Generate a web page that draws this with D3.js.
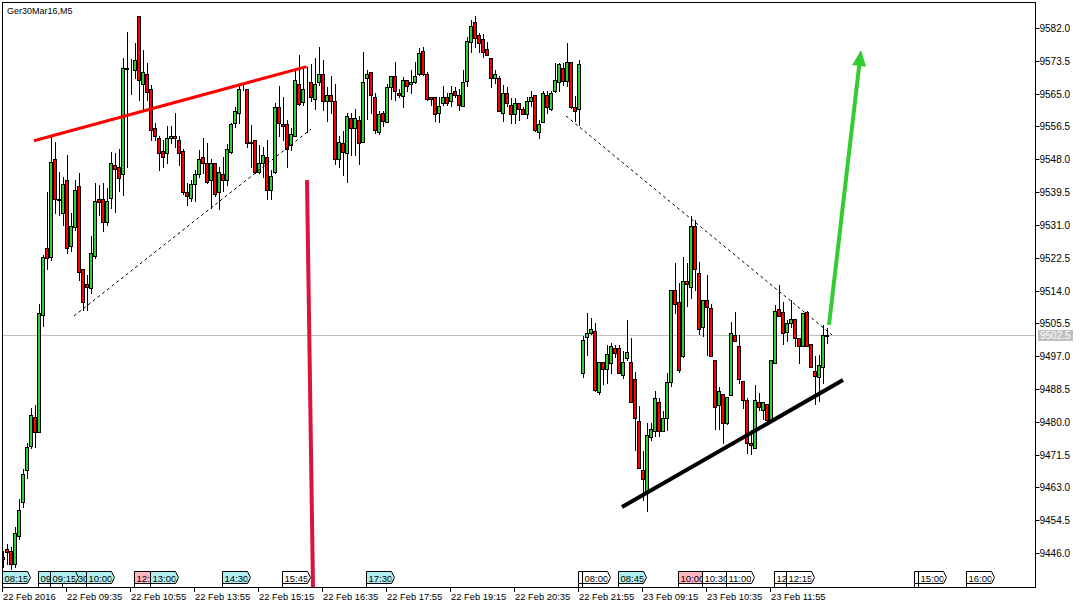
<!DOCTYPE html>
<html><head><meta charset="utf-8">
<script src="https://cdn.jsdelivr.net/npm/d3@7/dist/d3.min.js"></script>
<style>html,body{margin:0;padding:0;background:#fff;}svg{display:block;font-family:"Liberation Sans",Arial,sans-serif;}</style>
</head><body>
<script>
// ---- data (M5 candles, index 0..206) ----
const opens = [9445.0,9447.0,9446.5,9443.1,9450.5,9459.3,9467.6,9473.6,9481.3,9477.4,9507.6,9525.0,9522.6,9548.0,9537.5,9534.0,9542.6,9525.4,9530.5,9541.1,
9519.5,9515.7,9514.6,9523.0,9537.6,9537.8,9531.8,9537.9,9546.5,9545.9,9544.2,9571.4,9571.3,9571.0,9585.1,9567.4,9570.1,9566.2,9556.0,9553.5,
9550.2,9549.6,9553.5,9554.1,9553.0,9550.2,9539.5,9537.9,9541.6,9544.2,9548.6,9547.1,9542.5,9547.1,9539.5,9544.2,9542.5,9550.0,9557.5,9559.9,
9566.6,9566.2,9552.3,9553.0,9544.7,9547.0,9548.6,9540.0,9544.7,9561.5,9557.1,9557.1,9551.7,9553.9,9567.5,9562.9,9566.9,9568.0,9563.6,9568.0,
9570.1,9563.0,9564.7,9563.1,9548.0,9552.2,9549.6,9558.7,9556.1,9558.2,9552.4,9569.0,9570.6,9564.1,9555.0,9559.9,9557.6,9566.7,9569.6,9565.1,
9564.5,9568.6,9567.4,9568.0,9570.0,9576.1,9570.0,9564.1,9564.1,9559.9,9562.5,9564.1,9563.0,9565.7,9564.7,9561.9,9568.4,9578.5,9583.5,9580.2,
9579.1,9576.6,9574.2,9569.0,9569.0,9559.9,9565.1,9562.1,9559.8,9562.5,9561.0,9559.8,9563.1,9564.7,9555.0,9557.6,9564.7,9561.0,9565.6,9568.0,
9571.6,9568.4,9573.2,9561.5,9561.0,9492.6,9501.9,9502.9,9503.5,9487.8,9495.4,9493.6,9495.3,9499.2,9499.2,9492.0,9496.5,9495.4,9491.0,9480.3,
9467.6,9461.7,9476.0,9477.7,9485.1,9477.7,9481.0,9490.4,9514.2,9511.0,9497.1,9516.5,9515.0,9530.7,9518.5,9504.5,9511.5,9509.4,9496.0,9484.4,
9487.2,9479.6,9486.9,9502.5,9499.5,9490.6,9485.6,9474.6,9473.3,9485.2,9483.1,9484.6,9480.5,9495.3,9509.1,9508.5,9503.3,9505.5,9506.5,9501.6,
9499.5,9508.5,9500.1,9493.2,9491.5,9494.1,9502.3];
const highs = [9446.5,9448.4,9447.6,9452.8,9460.0,9467.8,9474.5,9483.6,9484.4,9510.5,9523.2,9539.6,9553.8,9552.5,9544.8,9543.5,9549.1,9534.0,9542.6,9544.4,
9519.5,9518.0,9528.1,9541.9,9541.3,9541.8,9540.5,9550.0,9549.6,9550.6,9574.1,9581.0,9574.0,9578.0,9585.1,9576.3,9573.0,9567.2,9557.3,9553.9,
9553.0,9556.5,9556.7,9559.9,9553.9,9550.6,9541.8,9542.7,9545.3,9550.4,9553.5,9552.2,9548.1,9547.1,9546.1,9548.7,9551.9,9557.5,9561.5,9567.3,
9567.3,9566.2,9556.9,9553.0,9551.7,9551.1,9553.0,9545.3,9562.7,9567.0,9564.1,9558.2,9556.0,9571.0,9575.0,9572.0,9572.0,9572.7,9574.2,9577.0,
9573.8,9566.7,9569.6,9567.5,9553.9,9555.2,9559.9,9559.9,9561.0,9559.1,9575.7,9571.2,9570.6,9565.1,9560.6,9560.6,9567.5,9569.6,9573.3,9566.2,
9569.4,9568.6,9571.2,9573.3,9576.8,9577.2,9570.7,9564.1,9564.1,9564.1,9566.9,9565.1,9566.9,9566.7,9566.2,9571.0,9579.6,9584.1,9585.1,9580.7,
9580.5,9578.5,9574.2,9571.2,9569.6,9567.3,9566.7,9563.8,9563.8,9562.5,9561.5,9564.1,9565.8,9564.7,9558.2,9565.8,9565.6,9565.6,9572.9,9572.9,
9572.9,9578.1,9573.2,9564.4,9573.8,9502.1,9508.1,9506.8,9505.5,9495.6,9495.6,9499.9,9500.3,9499.9,9499.9,9498.2,9506.4,9501.7,9493.0,9484.2,
9472.3,9479.7,9479.7,9488.0,9486.1,9482.7,9492.6,9514.2,9521.2,9515.9,9522.6,9521.1,9533.3,9532.3,9521.5,9511.6,9518.0,9510.5,9496.0,9489.1,
9487.2,9486.3,9505.9,9508.5,9502.5,9490.6,9486.1,9477.9,9489.5,9487.4,9485.2,9484.6,9496.0,9510.3,9515.4,9511.1,9506.4,9511.5,9506.5,9501.6,
9508.3,9508.8,9500.1,9497.0,9497.3,9505.1,9504.2];
const lows = [9442.5,9443.2,9441.8,9442.5,9449.5,9458.0,9465.5,9473.2,9473.5,9477.4,9504.8,9519.5,9522.0,9534.0,9533.6,9531.0,9523.6,9524.3,9529.7,9516.7,
9509.0,9509.0,9513.4,9522.4,9533.6,9529.5,9531.0,9535.3,9534.4,9539.9,9538.8,9546.1,9565.0,9569.0,9563.4,9560.8,9563.4,9553.0,9553.0,9545.3,
9546.1,9547.0,9552.2,9551.3,9546.6,9539.0,9536.2,9537.1,9537.1,9543.5,9544.4,9541.8,9535.3,9538.4,9535.1,9539.7,9541.4,9549.6,9556.3,9557.4,
9566.0,9551.3,9546.1,9544.4,9544.4,9543.5,9537.7,9537.7,9544.4,9553.9,9553.0,9546.1,9550.4,9553.9,9562.1,9562.1,9555.0,9563.0,9561.0,9567.3,
9560.8,9558.0,9559.9,9546.8,9546.0,9544.0,9542.0,9549.0,9549.0,9546.8,9552.4,9558.4,9559.9,9554.9,9554.6,9556.5,9557.6,9563.6,9563.4,9564.1,
9561.5,9565.7,9565.1,9567.7,9569.9,9569.9,9563.4,9562.1,9558.0,9557.6,9562.1,9562.1,9561.9,9564.1,9560.8,9561.9,9566.9,9575.9,9577.2,9575.9,
9574.6,9574.9,9566.6,9567.7,9560.4,9557.8,9561.7,9557.4,9557.4,9558.2,9559.8,9558.7,9561.7,9555.2,9553.5,9557.6,9559.9,9560.8,9565.3,9565.6,
9567.3,9567.0,9561.2,9557.8,9556.9,9491.5,9497.3,9502.8,9488.0,9487.2,9489.8,9490.0,9492.6,9496.9,9492.6,9491.4,9496.0,9485.1,9472.8,9468.0,
9459.8,9456.8,9475.4,9476.2,9476.2,9477.5,9477.9,9489.3,9508.1,9493.0,9496.9,9509.9,9512.0,9514.2,9502.8,9502.1,9497.3,9497.0,9478.1,9478.1,
9474.4,9479.4,9486.9,9500.8,9490.0,9483.5,9472.0,9471.6,9473.1,9483.1,9480.6,9480.5,9480.5,9495.3,9507.5,9500.1,9500.8,9504.5,9499.5,9495.3,
9499.5,9499.5,9494.1,9484.6,9485.5,9490.0,9500.5];
const closes = [9444.5,9446.3,9443.1,9451.1,9457.2,9466.5,9473.4,9481.8,9477.4,9508.1,9522.6,9522.5,9547.4,9537.6,9537.8,9541.6,9525.0,9530.7,9540.0,9518.9,
9511.1,9515.0,9523.8,9537.2,9537.0,9531.8,9537.2,9547.1,9545.4,9543.1,9571.6,9571.6,9571.5,9573.7,9568.5,9570.7,9565.5,9555.6,9553.9,9549.6,
9548.5,9553.6,9554.1,9553.5,9549.6,9539.4,9538.4,9541.6,9544.2,9548.1,9547.0,9542.0,9547.0,9539.0,9544.7,9542.5,9550.6,9557.1,9560.5,9566.2,
9566.8,9552.2,9552.5,9544.7,9547.0,9549.1,9540.0,9543.7,9561.5,9557.5,9556.5,9550.6,9554.6,9568.6,9562.4,9566.2,9567.0,9564.1,9567.5,9570.1,
9563.0,9564.7,9563.0,9548.0,9552.4,9550.0,9559.3,9556.1,9558.7,9552.2,9568.1,9570.1,9564.7,9555.5,9559.8,9558.0,9566.7,9569.6,9565.6,9564.6,
9568.6,9566.9,9568.0,9569.6,9575.5,9570.0,9563.6,9563.6,9559.7,9561.9,9564.1,9562.5,9565.1,9564.7,9562.1,9568.1,9578.7,9582.6,9579.5,9578.1,
9575.9,9575.0,9569.0,9570.0,9560.4,9565.1,9562.5,9559.8,9562.5,9561.0,9559.8,9563.1,9564.1,9555.5,9557.2,9565.1,9561.5,9565.1,9568.6,9572.7,
9568.4,9573.2,9561.5,9560.4,9572.7,9501.2,9502.9,9504.1,9488.3,9495.4,9493.6,9497.5,9499.6,9497.9,9492.6,9495.4,9498.0,9485.1,9481.0,9468.0,
9465.2,9476.6,9478.2,9486.1,9477.7,9481.0,9490.2,9514.2,9510.5,9493.4,9516.5,9515.6,9530.7,9519.5,9504.1,9511.6,9509.8,9497.0,9483.9,9488.0,
9479.6,9486.3,9502.9,9500.8,9491.0,9485.6,9474.4,9474.0,9485.6,9483.9,9485.0,9480.5,9496.0,9508.7,9507.5,9502.9,9505.7,9506.5,9501.6,9499.5,
9508.1,9499.5,9494.1,9491.9,9494.7,9502.5,9502.5];

const priceTicks = [9446.0,9454.5,9463.0,9471.5,9480.0,9488.5,9497.0,9505.5,9514.0,9522.5,9531.0,9539.5,9548.0,9556.5,9565.0,9573.5,9582.0];
const dateTickIdx = [0,16,32,48,64,80,96,112,128,144,160,176,192];
const dateTickLabels = ["22 Feb 2016","22 Feb 09:35","22 Feb 10:55","22 Feb 13:55","22 Feb 15:15","22 Feb 16:35","22 Feb 17:55","22 Feb 19:15","22 Feb 20:35","22 Feb 21:55","23 Feb 09:15","23 Feb 10:35","23 Feb 11:55"];
// time badges (drawn in this order, later ones cover earlier ones)
const badgeIdx    = [0,9,15,12,21,33,37,55,70,91,144,145,154,169,175,181,193,196,228,229,241];
const badgeLabels = ["08:15","09:00","09:30","09:15","10:00","12:45","13:00","14:30","15:45","17:30","21:55","08:00","08:45","10:00","10:30","11:00","12:00","12:15","14:55","15:00","16:00"];
const badgeKinds  = ["c","c","c","c","c","p","c","c","w","c","w","w","c","p","w","w","w","w","w","w","w"];
const currentPrice = 9502.5;
const symbolTitle = "Ger30Mar16,M5";
// drawn objects, in [candle index, price]
const redTrend    = [[7.75,9552.8],[75.9,9572.0]];
const dashUpper   = [[17.75,9507.4],[77,9555.8]];
const dashLower   = [[140.75,9559.2],[207.25,9502.5]];
const crimsonLine = [[76,9542.6],[77.5,9437.2]];
const blackTrend  = [[154.75,9457.9],[210,9490.8]];
const greenArrow  = [[206.5,9505.1],[214.5,9576.3]];

// ---- drawing ----
const W=1084,H=608;
const L=2.5,T=2.5,R=1035.5,B=587.5;
const x = d3.scaleLinear().domain([0,258]).range([3,1035]);
const y = d3.scaleLinear().domain([9446,9582]).range([553,28]);

const svg = d3.select("body").append("svg").attr("width",W).attr("height",H);
svg.append("rect").attr("width",W).attr("height",H).attr("fill","#fff");
const defs = svg.append("defs");
defs.append("clipPath").attr("id","plot").append("rect").attr("x",L).attr("y",T).attr("width",R-L).attr("height",B-T);
const g = svg.append("g").attr("clip-path","url(#plot)");

// current price line
const py = Math.round(y(currentPrice))+0.5;
g.append("line").attr("x1",L).attr("x2",R).attr("y1",py).attr("y2",py).attr("stroke","#c0c0c0");

// candles
const idx = d3.range(opens.length);
const cg = g.append("g");
cg.selectAll("line.w").data(idx).join("line")
  .attr("x1",i=>x(i)+0.5).attr("x2",i=>x(i)+0.5)
  .attr("y1",i=>Math.round(y(highs[i]))).attr("y2",i=>Math.round(y(lows[i]))+1)
  .attr("stroke","#000").attr("stroke-width",1);
cg.selectAll("rect.b").data(idx).join("rect")
  .attr("x",i=>x(i)-1.5)
  .attr("y",i=>Math.round(y(Math.max(opens[i],closes[i])))+0.5)
  .attr("width",3)
  .attr("height",i=>Math.max(0,Math.round(y(Math.min(opens[i],closes[i])))-Math.round(y(Math.max(opens[i],closes[i])))))
  .attr("fill",i=>closes[i]>=opens[i]?"#32cd32":"#ff0000")
  .attr("stroke","#000").attr("stroke-width",1);

const pt = p=>[x(p[0]),y(p[1])];
function seg(p,opts){
  const a=pt(p[0]),b=pt(p[1]);
  const l=g.append("line").attr("x1",a[0]).attr("y1",a[1]).attr("x2",b[0]).attr("y2",b[1]);
  for(const k in opts) l.attr(k,opts[k]);
  return l;
}
seg(dashUpper,{stroke:"#000","stroke-width":1,"stroke-dasharray":"3,3"});
seg(dashLower,{stroke:"#000","stroke-width":1,"stroke-dasharray":"3,3"});
seg(redTrend,{stroke:"#ff0000","stroke-width":3});
seg(crimsonLine,{stroke:"#dc143c","stroke-width":4});
seg(blackTrend,{stroke:"#000","stroke-width":4});
// green arrow
{
  const a=pt(greenArrow[0]),b=pt(greenArrow[1]);
  const dx=b[0]-a[0],dy=b[1]-a[1],len=Math.hypot(dx,dy),ux=dx/len,uy=dy/len;
  const hl=16,hw=7;
  const bx=b[0]-ux*hl,by=b[1]-uy*hl;
  g.append("line").attr("x1",a[0]).attr("y1",a[1]).attr("x2",bx+ux*2).attr("y2",by+uy*2)
    .attr("stroke","#33cc33").attr("stroke-width",4);
  g.append("path").attr("d",`M${b[0]},${b[1]}L${bx-uy*hw},${by+ux*hw}L${bx+uy*hw},${by-ux*hw}Z`).attr("fill","#33cc33");
}

// time badges
const badgeFill={c:"#afeeee",p:"#ffb6c1",w:"#ffffff"};
const bg = svg.append("g");
const bx0 = badgeIdx.map(bi=>Math.round(x(bi))-0.5);
badgeIdx.forEach((bi,k)=>{
  const x0=bx0[k];
  if(x0>R) return;
  // visible horizontal span of this badge (later badges are drawn over it)
  let vl=x0, vr=x0+25;
  for(let j=k+1;j<bx0.length;j++){
    const xj=bx0[j];
    if(xj>x0 && xj<vr) vr=xj;
    if(xj<=vl && xj+27>vl) vl=xj+27;
  }
  bg.append("line").attr("x1",x0).attr("x2",x0).attr("y1",583.5).attr("y2",587).attr("stroke","#000");
  bg.append("path").attr("d",`M${x0},571.5H${x0+25}L${x0+28},577.5L${x0+25},583.5H${x0}Z`)
    .attr("fill",badgeFill[badgeKinds[k]]).attr("stroke","#000").attr("stroke-width",1);
  const cid="bc"+k;
  defs.append("clipPath").attr("id",cid).append("rect").attr("x",vl).attr("y",571).attr("width",Math.max(0,vr-vl)).attr("height",13);
  const t=bg.append("text").attr("x",x0+2).attr("y",581.5).attr("font-size","9.5px").attr("fill","#000")
    .attr("clip-path",`url(#${cid})`).text(badgeLabels[k]);
  // keep only the characters that remain visible
  const node=t.node(), n=badgeLabels[k].length;
  let first=-1,last=-1,startX=x0+2;
  for(let c=0;c<n;c++){
    const ext=node.getExtentOfChar(c);
    const s=ext.x,e=ext.x+ext.width;
    const vis=Math.max(0,Math.min(e,vr)-Math.max(s,vl));
    if(vis>=0.55*ext.width && ext.width>0){ if(first<0){first=c;startX=s;} last=c; }
  }
  if(first<0) t.remove();
  else t.attr("x",startX).text(badgeLabels[k].slice(first,last+1));
});

// frame
svg.append("rect").attr("x",L).attr("y",T).attr("width",R-L).attr("height",B-T).attr("fill","none").attr("stroke","#000");

// right price axis
const ra = svg.append("g");
priceTicks.forEach(v=>{
  const yy=Math.round(y(v))+0.5;
  ra.append("line").attr("x1",R).attr("x2",R+4).attr("y1",yy).attr("y2",yy).attr("stroke","#000");
  ra.append("text").attr("x",1039.5).attr("y",yy).attr("dy","0.35em").attr("font-size","10px").attr("fill","#000").text(v.toFixed(1));
});
ra.append("rect").attr("x",1038).attr("y",py-5.5).attr("width",35).attr("height",11).attr("fill","#c0c0c0");
ra.append("text").attr("x",1040).attr("y",py).attr("dy","0.35em").attr("font-size","10px").attr("fill","#fff").text(currentPrice.toFixed(1));

// bottom time axis
const ba = svg.append("g");
dateTickIdx.forEach((ti,k)=>{
  const xx=Math.round(x(ti))-0.5;
  ba.append("line").attr("x1",xx).attr("x2",xx).attr("y1",B).attr("y2",B+4.5).attr("stroke","#000");
  ba.append("text").attr("x",xx+0.5).attr("y",600).attr("font-size","9.4px").attr("fill","#000").text(dateTickLabels[k]);
});

// title
svg.append("text").attr("x",7).attr("y",13.5).attr("font-size","9px").attr("fill","#000").text(symbolTitle);
</script>
</body></html>
